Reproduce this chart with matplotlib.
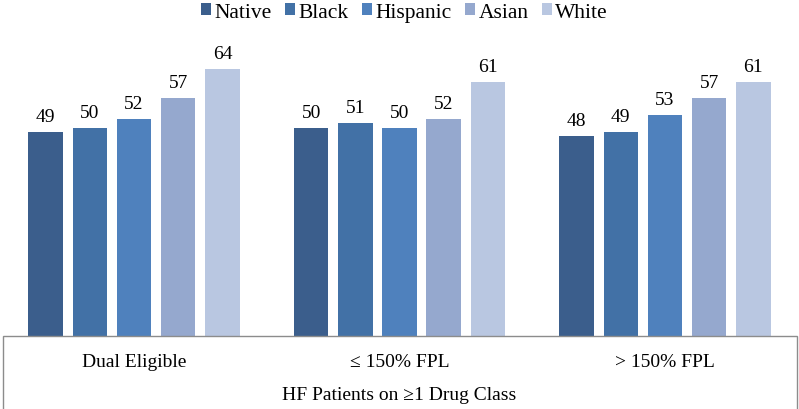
import numpy as np
import matplotlib.pyplot as plt
from matplotlib.patches import Patch, Rectangle

plt.rcParams['font.family'] = ['Liberation Serif', 'DejaVu Serif']

groups = ['Dual Eligible', '\u2264 150% FPL', '> 150% FPL']
races = ['Native', 'Black', 'Hispanic', 'Asian', 'White']
colors = ['#3b5e8c', '#4271a6', '#4f81bd', '#95a8ce', '#b9c7e1']
values = {
    'Native': [49, 50, 48],
    'Black': [50, 51, 49],
    'Hispanic': [52, 50, 53],
    'Asian': [57, 52, 57],
    'White': [64, 61, 61],
}
xlabel = 'HF Patients on \u22651 Drug Class'

W, H = 799, 410
fig = plt.figure(figsize=(W / 100, H / 100), dpi=100)

base = 337  # px from top where bars sit
ax = fig.add_axes([0, (H - base) / H, 1, base / H])
ax.set_ylim(0, base / 4.17)
ax.set_xlim(-134 / 265.5, (W - 134) / 265.5)

x = np.arange(len(groups))
pitch = 0.1665
width = 0.13
for i, (race, col) in enumerate(zip(races, colors)):
    bars = ax.bar(x + (i - 2) * pitch, values[race], width, color=col)
    ax.bar_label(bars, padding=5, fontsize=14)

ax.set_xticks(x, groups, fontsize=14)
ax.tick_params(axis='x', length=0, pad=12)
ax.set_yticks([])
ax.set_xlabel(xlabel, fontsize=14, labelpad=12)
for s in ax.spines.values():
    s.set_visible(False)

# box round the category axis
fig.patches.append(Rectangle((3 / W, -0.1), 794 / W, (H - base) / H + 0.1,
                             transform=fig.transFigure, fill=False,
                             edgecolor='#8c8c8c', lw=1))

handles = [Patch(facecolor=c, edgecolor='none') for c in colors]
fig.legend(handles, races, loc='upper center', bbox_to_anchor=(404.5 / W, 1.012),
           ncol=5, frameon=False, handlelength=0.45, handleheight=0.45,
           handletextpad=0.15, columnspacing=0.65, borderaxespad=0,
           prop={'size': 15.5})

fig.savefig('out.png', dpi=100)
